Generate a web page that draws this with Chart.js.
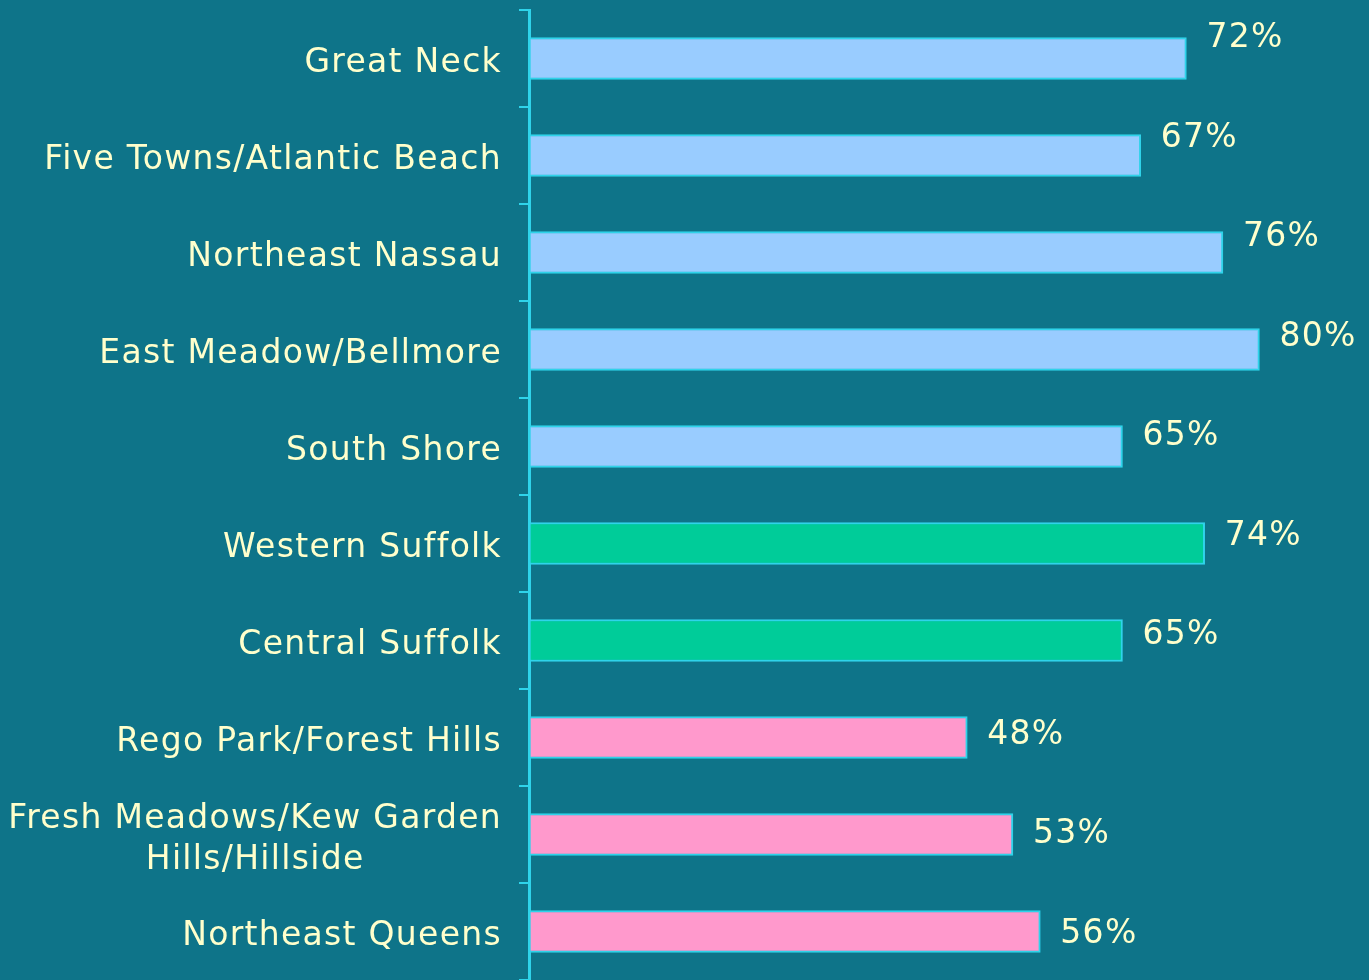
<!DOCTYPE html>
<html>
<head>
<meta charset="utf-8">
<script src="https://cdn.jsdelivr.net/npm/chart.js@4"></script>
<style>
  html, body { margin: 0; padding: 0; background: #0e7489; }
  #wrap { width: 1369px; height: 980px; position: relative; }
</style>
</head>
<body>
<div id="wrap"><canvas id="barChart"></canvas></div>
<script>
// areas, top to bottom
const areas = [
    'Great Neck',
    'Five Towns/Atlantic Beach',
    'Northeast Nassau',
    'East Meadow/Bellmore',
    'South Shore',
    'Western Suffolk',
    'Central Suffolk',
    'Rego Park/Forest Hills',
    ['Fresh Meadows/Kew Garden', 'Hills/Hillside'],
    'Northeast Queens'
];
const percents = [72, 67, 76, 80, 65, 74, 65, 48, 53, 56];
const counties = ['Nassau', 'Nassau', 'Nassau', 'Nassau', 'Nassau',
                  'Suffolk', 'Suffolk', 'Queens', 'Queens', 'Queens'];

const countyColors = { Nassau: '#99ccff', Suffolk: '#00cc99', Queens: '#ff99cc' };
const textColor = '#ffffcc';
const lineColor = '#2fd3ea';
const fontFamily = '"DejaVu Sans", Verdana, sans-serif';

// draws the area names and the percent labels
const labelPlugin = {
    id: 'labels',
    afterDatasetsDraw(chart) {
        const ctx = chart.ctx;
        const yScale = chart.scales.y;
        const meta = chart.getDatasetMeta(0);
        ctx.save();
        ctx.fillStyle = textColor;
        ctx.font = '33px ' + fontFamily;
        ctx.letterSpacing = '1.3px';
        ctx.textBaseline = 'middle';

        const rightEdge = yScale.right - 27;
        areas.forEach((name, i) => {
            const y = yScale.getPixelForTick(i) + 5;
            const lines = Array.isArray(name) ? name : [name];
            const widths = lines.map(l => ctx.measureText(l).width);
            const maxW = Math.max(...widths);
            const lineH = 41;
            const startY = y - (lines.length - 1) * lineH / 2;
            ctx.textAlign = 'center';
            lines.forEach((l, k) => {
                ctx.fillText(l, rightEdge - maxW / 2, startY + k * lineH);
            });
        });

        // percent labels sit a little above the bar end, less so further down
        ctx.textAlign = 'left';
        meta.data.forEach((bar, i) => {
            ctx.fillText(percents[i] + '%', bar.x + 20, bar.y - 20 + i * 2.5);
        });
        ctx.restore();
    }
};

const ctx = document.getElementById('barChart').getContext('2d');
new Chart(ctx, {
    type: 'bar',
    data: {
        labels: areas,
        datasets: [{
            data: percents,
            backgroundColor: counties.map(c => countyColors[c]),
            borderColor: lineColor,
            borderWidth: 2,
            borderSkipped: false,
            barThickness: 42
        }]
    },
    options: {
        indexAxis: 'y',
        responsive: true,
        maintainAspectRatio: false,
        animation: false,
        layout: { padding: { top: 10, bottom: -2, left: 0, right: 0 } },
        plugins: {
            legend: { display: false },
            tooltip: { enabled: false }
        },
        scales: {
            x: {
                display: false,
                min: 0,
                max: 92
            },
            y: {
                afterFit(scale) { scale.width = 529; },
                ticks: { display: false },
                grid: {
                    offset: true,
                    drawOnChartArea: false,
                    drawTicks: true,
                    tickLength: 10,
                    color: lineColor,
                    lineWidth: 2
                },
                border: { display: true, color: lineColor, width: 3 }
            }
        }
    },
    plugins: [labelPlugin]
});
</script>
</body>
</html>
